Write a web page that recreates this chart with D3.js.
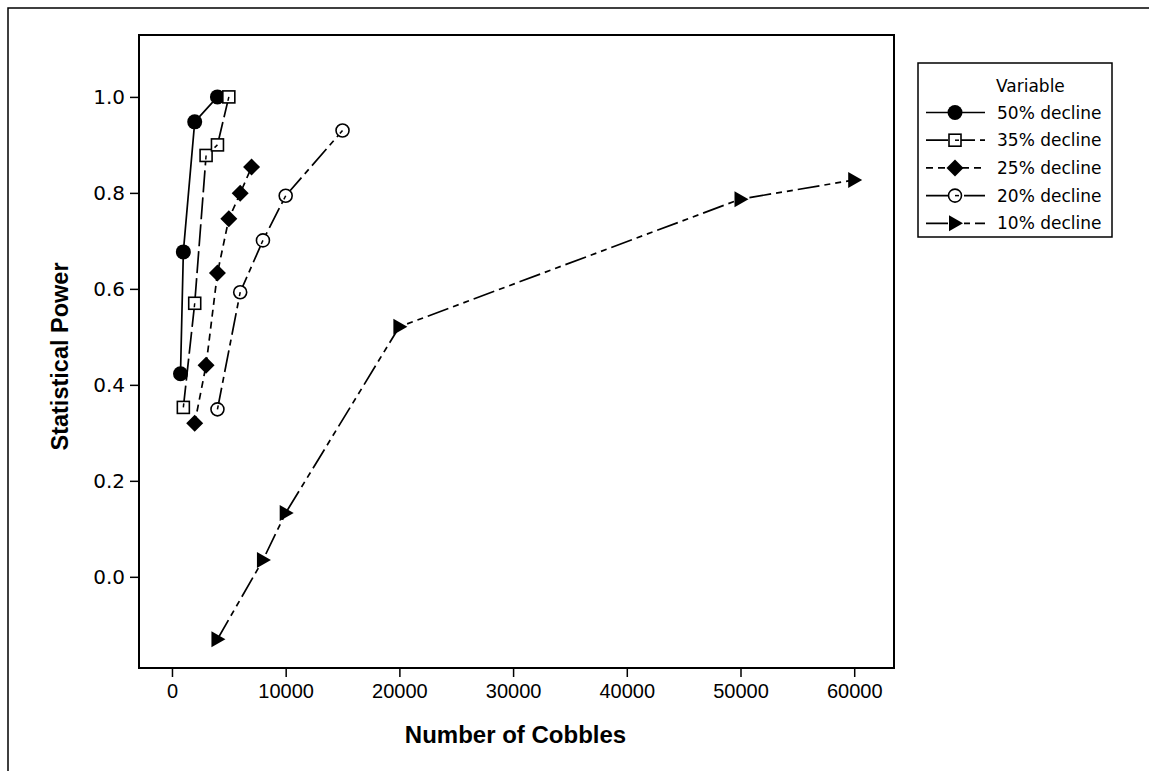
<!DOCTYPE html>
<html>
<head>
<meta charset="utf-8">
<script src="https://cdn.jsdelivr.net/npm/d3@7"></script>
<style>
  html, body { margin: 0; padding: 0; background: #fff; }
  svg { display: block; }
</style>
</head>
<body>
<svg id="chart" width="1149" height="771"></svg>
<script>
// Sample sizes (number of cobbles) and statistical power for each decline scenario
const n50 = [750, 1000, 2000, 4000];
const p50 = [0.423, 0.677, 0.948, 1.0];
const n35 = [1000, 2000, 3000, 4000, 5000];
const p35 = [0.353, 0.570, 0.878, 0.900, 1.0];
const n25 = [2000, 3000, 4000, 5000, 6000, 7000];
const p25 = [0.320, 0.441, 0.633, 0.746, 0.799, 0.854];
const n20 = [4000, 6000, 8000, 10000, 15000];
const p20 = [0.349, 0.593, 0.701, 0.794, 0.930];
const n10 = [4000, 8000, 10000, 20000, 50000, 60000];
const p10 = [-0.130, 0.035, 0.133, 0.521, 0.787, 0.827];

const seriesNames = ["50% decline", "35% decline", "25% decline", "20% decline", "10% decline"];
const xTicks = [0, 10000, 20000, 30000, 40000, 50000, 60000];
const yTicks = [0.0, 0.2, 0.4, 0.6, 0.8, 1.0];

const series = [
  { name: seriesNames[0], n: n50, p: p50, symbol: "dot",      dash: null },
  { name: seriesNames[1], n: n35, p: p35, symbol: "square",   dash: "22,5" },
  { name: seriesNames[2], n: n25, p: p25, symbol: "diamond",  dash: "7,5" },
  { name: seriesNames[3], n: n20, p: p20, symbol: "ring",     dash: "22,5,6,5" },
  { name: seriesNames[4], n: n10, p: p10, symbol: "triangle", dash: "22,5,6,5,6,5" }
];

const svg = d3.select("#chart");
const frame = { left: 139, right: 894, top: 35, bottom: 668 };

const x = d3.scaleLinear().domain([-2900, 63500]).range([frame.left, frame.right]);
const y = d3.scaleLinear().domain([-0.19, 1.129]).range([frame.bottom, frame.top]);

// outer page border (top and left edges)
svg.append("path")
  .attr("d", "M8,771V8H1149")
  .attr("fill", "none").attr("stroke", "#000").attr("stroke-width", 1.5);

// plot frame
svg.append("rect")
  .attr("x", frame.left).attr("y", frame.top)
  .attr("width", frame.right - frame.left).attr("height", frame.bottom - frame.top)
  .attr("fill", "none").attr("stroke", "#000").attr("stroke-width", 2);

// axes
const xAxis = svg.append("g")
  .attr("transform", `translate(0,${frame.bottom})`)
  .call(d3.axisBottom(x).tickValues(xTicks).tickSize(9).tickPadding(7).tickFormat(d3.format("d")));
xAxis.select(".domain").remove();
xAxis.selectAll(".tick line").attr("stroke-width", 1.5);
xAxis.selectAll("text")
  .attr("font-family", "'Liberation Sans Narrow', 'Arial Narrow', 'Liberation Sans', sans-serif")
  .attr("font-size", 20).attr("fill", "#000");

const yAxis = svg.append("g")
  .attr("transform", `translate(${frame.left},0)`)
  .call(d3.axisLeft(y).tickValues(yTicks).tickSize(9).tickPadding(5).tickFormat(d3.format(".1f")));
yAxis.select(".domain").remove();
yAxis.selectAll(".tick line").attr("stroke-width", 1.5);
yAxis.selectAll("text")
  .attr("font-family", "'DejaVu Sans', Verdana, sans-serif")
  .attr("font-size", 20).attr("fill", "#000");

// axis titles
svg.append("text")
  .attr("x", (frame.left + frame.right) / 2 - 1).attr("y", 743)
  .attr("text-anchor", "middle")
  .attr("font-family", "'Liberation Sans Narrow', 'Arial Narrow', 'Liberation Sans', sans-serif")
  .attr("font-weight", "bold").attr("font-size", 24)
  .text("Number of Cobbles");

svg.append("text")
  .attr("transform", `translate(68,${(frame.top + frame.bottom) / 2 + 5}) rotate(-90)`)
  .attr("text-anchor", "middle")
  .attr("font-family", "'Liberation Sans Narrow', 'Arial Narrow', 'Liberation Sans', sans-serif")
  .attr("font-weight", "bold").attr("font-size", 23.5)
  .text("Statistical Power");

// marker drawing
function drawMarker(g, symbol, cx, cy, tickAngle) {
  const m = g.append("g").attr("transform", `translate(${cx},${cy})`);
  if (symbol === "dot") {
    m.append("circle").attr("r", 7.5).attr("fill", "#000");
  } else if (symbol === "square") {
    m.append("rect").attr("x", -6).attr("y", -6).attr("width", 12).attr("height", 12)
      .attr("fill", "#fff").attr("stroke", "#000").attr("stroke-width", 1.6);
  } else if (symbol === "diamond") {
    m.append("path").attr("d", "M0,-8.5L8.5,0L0,8.5L-8.5,0Z").attr("fill", "#000");
  } else if (symbol === "ring") {
    m.append("circle").attr("r", 6.5)
      .attr("fill", "#fff").attr("stroke", "#000").attr("stroke-width", 1.6);
  } else if (symbol === "triangle") {
    m.append("path").attr("d", "M-6,-8L8,0L-6,8Z").attr("fill", "#000");
  }
  // short piece of the connecting line showing inside hollow symbols
  if ((symbol === "square" || symbol === "ring") && tickAngle !== null) {
    m.append("line")
      .attr("x1", 0).attr("y1", 0)
      .attr("x2", 4 * Math.cos(tickAngle)).attr("y2", 4 * Math.sin(tickAngle))
      .attr("stroke", "#000").attr("stroke-width", 1.5);
  }
}

const line = d3.line().x(d => x(d[0])).y(d => y(d[1]));
const plot = svg.append("g");

series.forEach(s => {
  const pts = s.n.map((v, i) => [v, s.p[i]]);
  plot.append("path")
    .datum(pts)
    .attr("d", line)
    .attr("fill", "none").attr("stroke", "#000").attr("stroke-width", 1.7)
    .attr("stroke-dasharray", s.dash);
});

series.forEach(s => {
  const pts = s.n.map((v, i) => [v, s.p[i]]);
  pts.forEach((d, i) => {
    const other = i > 0 ? pts[i - 1] : pts[i + 1];
    const ang = Math.atan2(y(other[1]) - y(d[1]), x(other[0]) - x(d[0]));
    drawMarker(plot, s.symbol, x(d[0]), y(d[1]), ang);
  });
});

// legend
const lg = svg.append("g").attr("transform", "translate(918,63)");
lg.append("rect").attr("x", 0).attr("y", 0).attr("width", 194).attr("height", 174)
  .attr("fill", "#fff").attr("stroke", "#000").attr("stroke-width", 1.5);
lg.append("text").attr("x", 78).attr("y", 29)
  .attr("font-family", "'DejaVu Sans', Verdana, sans-serif").attr("font-size", 17)
  .text("Variable");
series.forEach((s, i) => {
  const cy = 49.5 + i * 27.7;
  lg.append("line").attr("x1", 8).attr("x2", 67).attr("y1", cy).attr("y2", cy)
    .attr("stroke", "#000").attr("stroke-width", 1.7)
    .attr("stroke-dasharray", s.dash);
  drawMarker(lg, s.symbol, 37, cy, 0);
  lg.append("text").attr("x", 79).attr("y", cy + 6)
    .attr("font-family", "'DejaVu Sans', Verdana, sans-serif").attr("font-size", 17)
    .text(s.name);
});
</script>
</body>
</html>
